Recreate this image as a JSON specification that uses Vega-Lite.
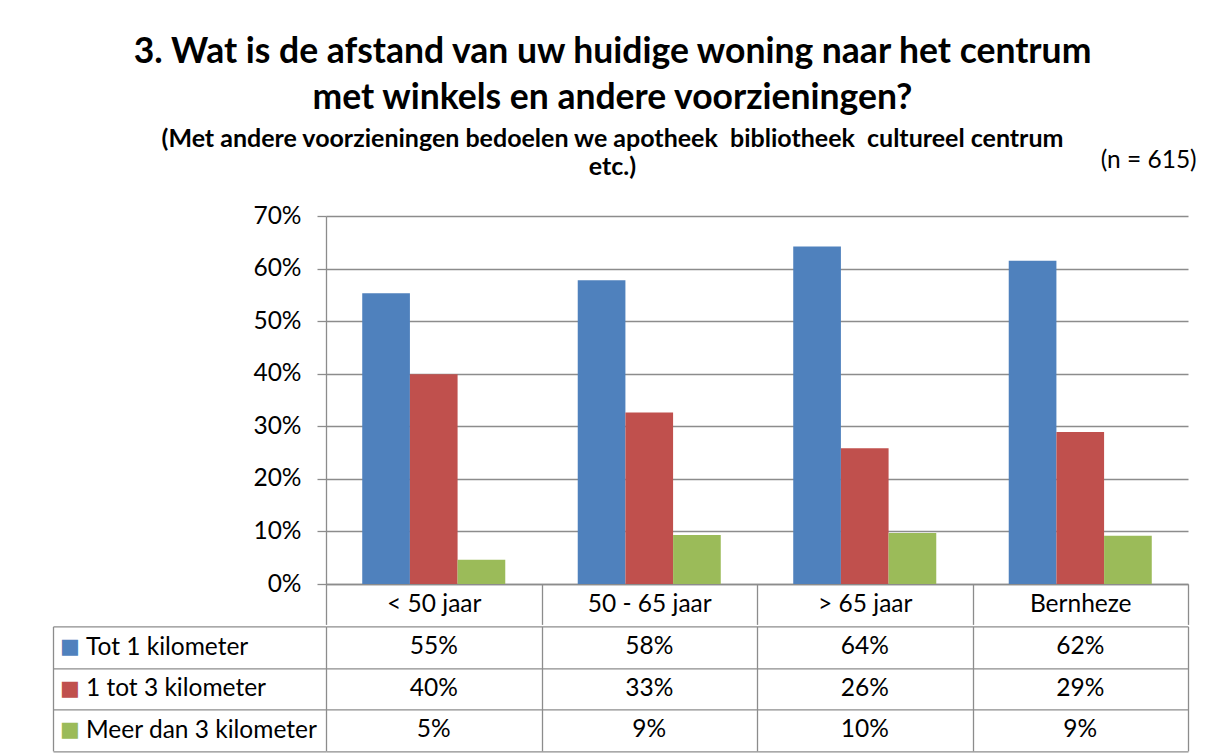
{
  "$schema": "https://vega.github.io/schema/vega-lite/v6.json",
  "padding": {"left": 52, "top": 35, "right": 5, "bottom": 5},
  "background": "white",
  "title": {
    "text": ["3. Wat is de afstand van uw huidige woning naar het centrum", "met winkels en andere voorzieningen?"],
    "subtitle": ["(Met andere voorzieningen bedoelen we apotheek \u00a0bibliotheek \u00a0cultureel centrum", "etc.)"],
    "font": "Lato", "fontSize": 35.5, "fontWeight": "bold", "color": "#000000", "lineHeight": 46,
    "subtitleFont": "Lato", "subtitleFontSize": 25, "subtitleFontWeight": "bold", "subtitleColor": "#000000",
    "subtitleLineHeight": 28, "subtitlePadding": 10,
    "anchor": "middle", "offset": -32, "dx": -12
  },
  "datasets": {
    "pct": [
      {"groep": "< 50 jaar", "afstand": "Tot 1 kilometer", "pct": 0.553},
      {"groep": "< 50 jaar", "afstand": "1 tot 3 kilometer", "pct": 0.399},
      {"groep": "< 50 jaar", "afstand": "Meer dan 3 kilometer", "pct": 0.046},
      {"groep": "50 - 65 jaar", "afstand": "Tot 1 kilometer", "pct": 0.578},
      {"groep": "50 - 65 jaar", "afstand": "1 tot 3 kilometer", "pct": 0.326},
      {"groep": "50 - 65 jaar", "afstand": "Meer dan 3 kilometer", "pct": 0.093},
      {"groep": "> 65 jaar", "afstand": "Tot 1 kilometer", "pct": 0.642},
      {"groep": "> 65 jaar", "afstand": "1 tot 3 kilometer", "pct": 0.258},
      {"groep": "> 65 jaar", "afstand": "Meer dan 3 kilometer", "pct": 0.097},
      {"groep": "Bernheze", "afstand": "Tot 1 kilometer", "pct": 0.615},
      {"groep": "Bernheze", "afstand": "1 tot 3 kilometer", "pct": 0.289},
      {"groep": "Bernheze", "afstand": "Meer dan 3 kilometer", "pct": 0.092}
    ]
  },
  "spacing": -12.6,
  "resolve": {"scale": {"x": "independent", "y": "independent", "color": "independent"}},
  "vconcat": [
    {
      "width": 862,
      "height": 368,
      "title": {"text": "(n = 615)", "anchor": "end", "font": "Lato", "fontSize": 24.5, "fontWeight": "normal", "color": "#000000", "offset": 30, "dx": 8},
      "data": {"name": "pct"},
      "mark": {"type": "bar"},
      "encoding": {
        "x": {
          "field": "groep", "type": "nominal",
          "sort": ["< 50 jaar", "50 - 65 jaar", "> 65 jaar", "Bernheze"],
          "scale": {"paddingInner": 0, "paddingOuter": 0},
          "axis": {"title": null, "labelAngle": 0, "labelFont": "Lato", "labelFontSize": 24.5, "labelColor": "#000000",
                   "labelBaseline": "middle", "labelPadding": -20.2, "tickBand": "extent", "tickSize": 40.4,
                   "tickColor": "#8c8c8c", "tickWidth": 1.3, "domainColor": "#8c8c8c", "domainWidth": 1.3, "grid": false}
        },
        "xOffset": {
          "field": "afstand", "type": "nominal",
          "sort": ["Tot 1 kilometer", "1 tot 3 kilometer", "Meer dan 3 kilometer"],
          "scale": {"paddingInner": 0, "paddingOuter": 0.76}
        },
        "y": {
          "field": "pct", "type": "quantitative",
          "scale": {"domain": [0, 0.7], "nice": false},
          "axis": {"title": null, "format": ".0%", "values": [0, 0.1, 0.2, 0.3, 0.4, 0.5, 0.6, 0.7],
                   "labelFont": "Lato", "labelFontSize": 24.5, "labelColor": "#000000", "labelPadding": 16,
                   "tickSize": 9, "tickColor": "#8c8c8c", "tickWidth": 1.3, "domainColor": "#8c8c8c", "domainWidth": 1.3,
                   "grid": true, "gridColor": "#8c8c8c", "gridWidth": 1.3}
        },
        "color": {
          "field": "afstand", "type": "nominal",
          "sort": ["Tot 1 kilometer", "1 tot 3 kilometer", "Meer dan 3 kilometer"],
          "scale": {"range": ["#4F81BD", "#C0504D", "#9BBB59"]},
          "legend": null
        }
      }
    },
    {
      "width": 862,
      "height": 124.5,
      "data": {"name": "pct"},
      "resolve": {"axis": {"y": "independent"}},
      "layer": [
        {
          "mark": {"type": "text", "font": "Lato", "fontSize": 24.5, "color": "#000000"},
          "encoding": {
            "x": {
              "field": "groep", "type": "nominal",
              "sort": ["< 50 jaar", "50 - 65 jaar", "> 65 jaar", "Bernheze"],
              "scale": {"paddingInner": 0, "paddingOuter": 0},
              "axis": {"orient": "top", "title": null, "labels": false, "ticks": false, "domain": false,
                       "grid": true, "tickBand": "extent", "gridColor": "#8c8c8c", "gridWidth": 1.3}
            },
            "y": {
              "field": "afstand", "type": "nominal",
              "sort": ["Tot 1 kilometer", "1 tot 3 kilometer", "Meer dan 3 kilometer"],
              "scale": {"paddingInner": 0, "paddingOuter": 0},
              "axis": {"orient": "left", "title": null, "grid": true, "tickBand": "extent", "gridColor": "#8c8c8c", "gridWidth": 1.3,
                       "ticks": true, "tickSize": 273, "tickColor": "#8c8c8c", "tickWidth": 1.3, "domain": false,
                       "labelAlign": "left", "labelPadding": -32.5, "labelFont": "Lato", "labelFontSize": 24.5,
                       "labelColor": "#000000", "labelLimit": 0}
            },
            "text": {"field": "pct", "type": "quantitative", "format": ".0%"}
          }
        },
        {
          "mark": {"type": "text", "opacity": 0},
          "encoding": {
            "y": {
              "field": "afstand", "type": "nominal",
              "sort": ["Tot 1 kilometer", "1 tot 3 kilometer", "Meer dan 3 kilometer"],
              "axis": {"orient": "left", "offset": 273, "title": null, "grid": false, "ticks": true, "tickSize": 0,
                       "tickColor": "transparent", "domain": true, "domainColor": "#8c8c8c", "domainWidth": 1.3,
                       "labelExpr": "'■'", "labelAlign": "center", "labelPadding": -16.5,
                       "labelFont": "DejaVu Sans", "labelFontSize": 21,
                       "labelColor": {"condition": [
                         {"test": "datum.value === 'Tot 1 kilometer'", "value": "#4F81BD"},
                         {"test": "datum.value === '1 tot 3 kilometer'", "value": "#C0504D"}
                       ], "value": "#9BBB59"}}
            }
          }
        }
      ]
    }
  ],
  "config": {"view": {"stroke": null}, "font": "Lato"}
}
